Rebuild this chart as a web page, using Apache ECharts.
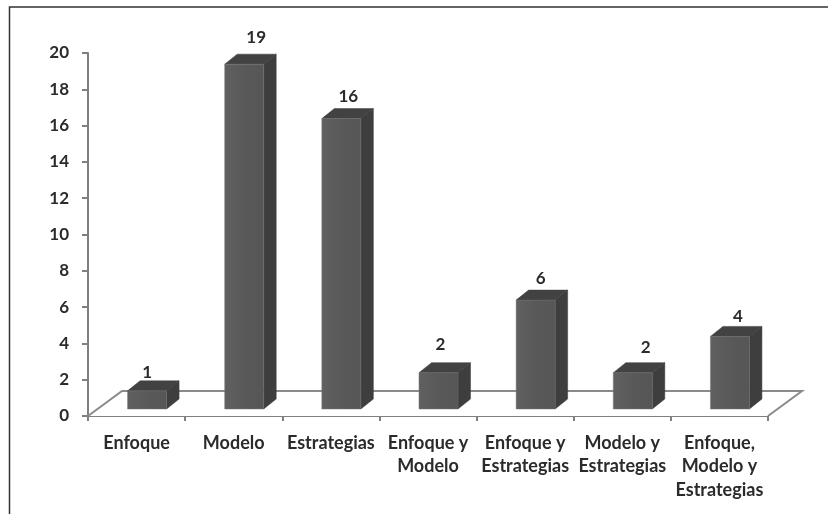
<!DOCTYPE html>
<html><head><meta charset="utf-8">
<style>html,body{margin:0;padding:0;background:#fff}#c{width:828px;height:514px}</style>
<script src="https://cdn.jsdelivr.net/npm/echarts@6/dist/echarts.min.js"></script>
</head><body><div id="c"></div>
<script>
const categories = ['Enfoque','Modelo','Estrategias','Enfoque y\nModelo','Enfoque y\nEstrategias','Modelo y\nEstrategias','Enfoque,\nModelo y\nEstrategias'];
const values = [1,19,16,2,6,2,4];
const labelNudge = [[0,5],[12,-4],[7,1],[2,-5],[5,1],[13,-2],[8,3]];

const FONT = 'Lato, sans-serif';
const BAR_W = 39, SHIFT_X = 10, SHIFT_Y = -7, DEPTH_X = 12.5, DEPTH_Y = -10;
const FLOOR_X = 34, FLOOR_Y = -25;
const FRONT = {type:'linear',x:0,y:0,x2:1,y2:0,colorStops:[{offset:0,color:'#606060'},{offset:.5,color:'#595959'},{offset:1,color:'#565656'}]};

const chart = echarts.init(document.getElementById('c'), null, {renderer:'canvas'});
chart.setOption({
  animation:false,
  backgroundColor:'#fff',
  graphic:[
    {type:'polyline',silent:true,shape:{points:[[9.5,514],[9.5,7],[828,7]]},style:{stroke:'#333',lineWidth:1.5,fill:null}}
  ],
  grid:{left:88,right:60,top:53,bottom:98,containLabel:false},
  xAxis:{type:'category',data:categories,
    axisLine:{lineStyle:{color:'#808080',width:2}},
    axisTick:{show:true,length:5,alignWithLabel:false,lineStyle:{color:'#808080',width:2}},
    axisLabel:{interval:0,color:'#2b2b2b',fontFamily:FONT,fontWeight:700,fontSize:18,lineHeight:23.5,margin:15,align:'center',verticalAlign:'top'}},
  yAxis:{type:'value',min:0,max:20,interval:2,splitLine:{show:false},
    axisLine:{show:true,lineStyle:{color:'#808080',width:2}},
    axisTick:{show:true,length:6,lineStyle:{color:'#808080',width:2}},
    axisLabel:{color:'#2b2b2b',fontFamily:FONT,fontWeight:700,fontSize:17,margin:19,padding:[2,0,0,0]}},
  series:[
    {type:'custom',z:1,silent:true,data:[0],encode:{x:-1,y:-1},
     renderItem(p,api){
       const band=api.size([1,0])[0];
       const o=api.coord([0,0]); const l=o[0]-band/2;
       const e=api.coord([categories.length-1,0]); const r=e[0]+band/2; const y=o[1];
       return {type:'polyline',silent:true,shape:{points:[[l,y],[l+FLOOR_X,y+FLOOR_Y],[r+FLOOR_X,y+FLOOR_Y],[r,y]]},
         style:{stroke:'#8a8a8a',lineWidth:2,fill:'#fff'}};
     }},
    {type:'custom',z:3,silent:true,data:values.map((v,i)=>[i,v]),encode:{x:0,y:1},
     renderItem(p,api){
       const i=api.value(0), v=api.value(1);
       const base=api.coord([i,0]), top=api.coord([i,v]);
       const xl=base[0]+SHIFT_X-BAR_W/2+0.5, xr=xl+BAR_W, yb=base[1]+SHIFT_Y, yt=top[1]+SHIFT_Y;
       const n=labelNudge[i];
       return {type:'group',children:[
         {type:'polygon',shape:{points:[[xr,yb],[xr,yt],[xr+DEPTH_X,yt+DEPTH_Y],[xr+DEPTH_X,yb+DEPTH_Y]]},style:{fill:'#3e3e3e',stroke:'#3a3a3a',lineWidth:.5}},
         {type:'polygon',shape:{points:[[xl,yt],[xr,yt],[xr+DEPTH_X,yt+DEPTH_Y],[xl+DEPTH_X,yt+DEPTH_Y]]},style:{fill:'#424242',stroke:'#3a3a3a',lineWidth:.5}},
         {type:'rect',shape:{x:xl,y:yt,width:BAR_W,height:yb-yt},style:{fill:FRONT,stroke:'#777',lineWidth:.5}},
         {type:'text',z2:5,style:{text:String(v),x:(xl+xr)/2+n[0],y:yt+DEPTH_Y-13+n[1],
            align:'center',verticalAlign:'middle',fill:'#2b2b2b',font:'700 17px '+FONT}}
       ]};
     }}
  ]
});
</script></body></html>
